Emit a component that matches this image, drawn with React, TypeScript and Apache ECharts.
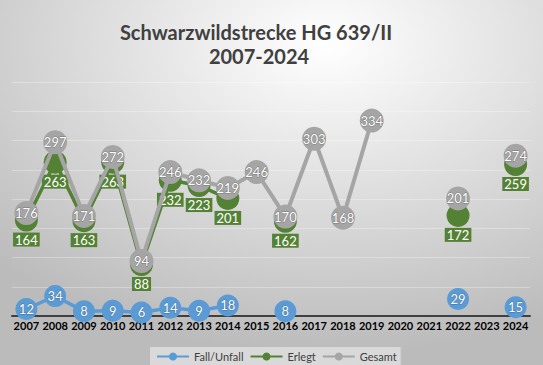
import React, { useEffect, useRef } from "react";
import * as echarts from "echarts";

const years = ["2007","2008","2009","2010","2011","2012","2013","2014","2015","2016","2017","2018","2019","2020","2021","2022","2023","2024"];
const fallUnfall = [12, 34, 8, 9, 6, 14, 9, 18, null, 8, null, null, null, null, null, 29, null, 15];
const erlegt = [164, 263, 163, 263, 88, 232, 223, 201, null, 162, null, null, null, null, null, 172, null, 259];
const gesamt = [176, 297, 171, 272, 94, 246, 232, 219, 246, 170, 303, 168, 334, null, null, 201, null, 274];
const titleLines = ["Schwarzwildstrecke HG 639/II", "2007-2024"];

const FONT = "Lato";

export default function App() {
  const ref = useRef<HTMLDivElement>(null);
  useEffect(() => {
    const chart = echarts.init(ref.current!, null, { renderer: "svg" });
    const whiteLabel = {
      show: true,
      position: "inside",
      color: "#ffffff",
      fontFamily: FONT,
      fontSize: 13,
      textBorderColor: "rgba(0,0,0,0.3)",
      textBorderWidth: 1,
    };
    const titleFont = `bold 20px ${FONT}`;
    chart.setOption({
      animation: false,
      backgroundColor: new echarts.graphic.RadialGradient(0.6, 0.12, 0.85, [
        { offset: 0, color: "#ffffff" },
        { offset: 1, color: "#bbbbbb" },
      ]),
      graphic: [
        {
          type: "text",
          x: 256,
          y: 32,
          style: { text: titleLines[0], font: titleFont, fill: "#404040", textAlign: "center", textVerticalAlign: "middle" },
        },
        {
          type: "text",
          x: 259,
          y: 56,
          style: { text: titleLines[1], font: titleFont, fill: "#404040", textAlign: "center", textVerticalAlign: "middle" },
        },
      ],
      legend: {
        bottom: 0,
        left: 150,
        backgroundColor: "#d9d9d9",
        padding: [4, 4, 3, 6],
        itemWidth: 32,
        itemHeight: 10,
        itemGap: 6,
        textStyle: { fontFamily: FONT, fontSize: 11, color: "#404040" },
        data: ["Fall/Unfall", "Erlegt", "Gesamt"],
      },
      grid: { left: 12, right: 13, top: 82, bottom: 49 },
      xAxis: {
        type: "category",
        data: years,
        boundaryGap: true,
        axisLine: { lineStyle: { color: "#404040", width: 2 } },
        axisTick: { show: false },
        axisLabel: {
          interval: 0,
          color: "#000000",
          fontWeight: "bold",
          fontFamily: FONT,
          fontSize: 11,
          margin: 4,
        },
      },
      yAxis: {
        type: "value",
        min: 0,
        max: 400,
        interval: 50,
        axisLabel: { show: false },
        axisLine: { show: false },
        axisTick: { show: false },
        splitLine: { lineStyle: { color: "rgba(255,255,255,0.3)", width: 1 } },
      },
      series: [
        {
          name: "Fall/Unfall",
          type: "line",
          data: fallUnfall,
          symbol: "circle",
          symbolSize: 22,
          showAllSymbol: true,
          itemStyle: { color: "#5b9bd5" },
          lineStyle: { color: "#5b9bd5", width: 3.5 },
          label: whiteLabel,
          z: 2,
        },
        {
          name: "Erlegt",
          type: "line",
          data: erlegt,
          symbol: "circle",
          symbolSize: 23,
          showAllSymbol: true,
          itemStyle: { color: "#548235" },
          lineStyle: { color: "#548235", width: 3.5 },
          label: {
            show: true,
            position: "bottom",
            distance: 1,
            color: "#ffffff",
            fontFamily: FONT,
            fontSize: 13,
            backgroundColor: "#548235",
            padding: [0, 2, 0, 2],
            lineHeight: 14,
          },
          z: 3,
        },
        {
          name: "Gesamt",
          type: "line",
          data: gesamt,
          symbol: "circle",
          symbolSize: 24,
          showAllSymbol: true,
          itemStyle: { color: "#a5a5a5" },
          lineStyle: { color: "#a5a5a5", width: 4 },
          label: whiteLabel,
          z: 4,
        },
      ],
    });
    return () => chart.dispose();
  }, []);
  return <div ref={ref} style={{ width: 543, height: 365, position: "absolute", left: 0, top: 0 }} />;
}
